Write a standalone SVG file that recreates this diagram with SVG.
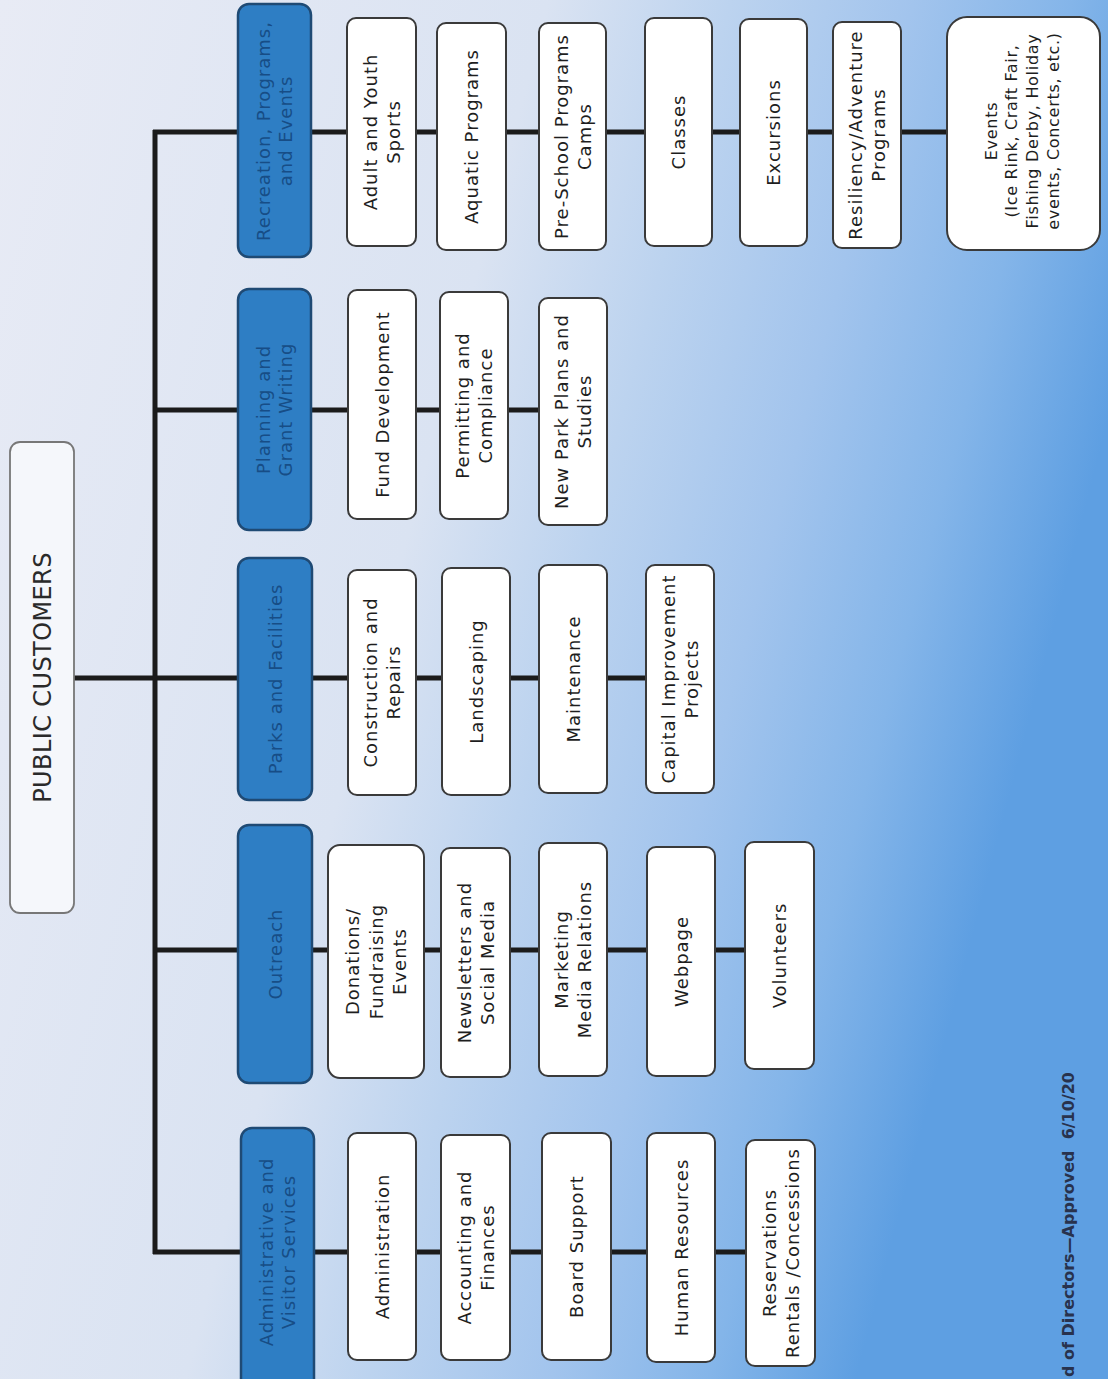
<svg xmlns="http://www.w3.org/2000/svg" width="1108" height="1379" viewBox="0 0 1108 1379">
<defs>
<linearGradient id="bg" gradientUnits="userSpaceOnUse" x1="0" y1="0" x2="1140" y2="300">
<stop offset="0" stop-color="#e8ebf5"/>
<stop offset="0.45" stop-color="#dae3f2"/>
<stop offset="0.6" stop-color="#bcd3ef"/>
<stop offset="0.75" stop-color="#a2c4ed"/>
<stop offset="0.88" stop-color="#84b5e9"/>
<stop offset="1" stop-color="#5e9fe2"/>
</linearGradient>
<style>
.dept{fill:#2e7ec4;stroke:#1f4a74;stroke-width:2.5}
.sub{fill:#ffffff;stroke:#3a3a3a;stroke-width:2}
.top{fill:#f5f7fb;stroke:#777777;stroke-width:1.8}
.t{font-family:"DejaVu Sans","Liberation Sans",sans-serif;font-size:18px;letter-spacing:1px;fill:#1e1e1e;text-anchor:middle}
.dt{font-family:"DejaVu Sans","Liberation Sans",sans-serif;font-size:18px;letter-spacing:1px;fill:#174d86;text-anchor:middle}
.ev{font-family:"DejaVu Sans","Liberation Sans",sans-serif;font-size:16px;letter-spacing:0.7px;fill:#1e1e1e;text-anchor:middle}
.pc{font-family:"DejaVu Sans","Liberation Sans",sans-serif;font-size:24px;letter-spacing:0.4px;fill:#2a2a2a;text-anchor:middle}
.ft{font-family:"DejaVu Sans","Liberation Sans",sans-serif;font-size:16px;font-weight:bold;fill:#28324d;text-anchor:end}
.ln{stroke:#1b1b1b;stroke-width:5;fill:none}
</style>
</defs>
<rect x="0" y="0" width="1108" height="1379" fill="url(#bg)"/>

<g id="connectors">
<line class="ln" x1="74" y1="678" x2="157" y2="678"/>
<line class="ln" x1="155" y1="130" x2="155" y2="1254"/>
<line class="ln" x1="153" y1="132" x2="948" y2="132"/>
<line class="ln" x1="153" y1="410" x2="540" y2="410"/>
<line class="ln" x1="153" y1="678" x2="647" y2="678"/>
<line class="ln" x1="153" y1="950" x2="746" y2="950"/>
<line class="ln" x1="153" y1="1252" x2="747" y2="1252"/>
</g>

<g id="public-customers">
<rect class="top" x="10" y="442" width="64" height="471" rx="10"/>
<text class="pc" transform="translate(42 677.5) rotate(-90)" x="0" y="8.5">PUBLIC CUSTOMERS</text>
</g>

<g id="dept-recreation">
<rect class="dept" x="238" y="4" width="73" height="253" rx="11"/>
<text class="dt" transform="translate(274.5 131) rotate(-90)"><tspan x="0" y="-4.5">Recreation, Programs,</tspan><tspan x="0" y="17.5">and Events</tspan></text>
</g>
<g id="dept-planning">
<rect class="dept" x="238" y="289" width="73" height="241" rx="11"/>
<text class="dt" transform="translate(274.5 409.5) rotate(-90)"><tspan x="0" y="-4.5">Planning and</tspan><tspan x="0" y="17.5">Grant Writing</tspan></text>
</g>
<g id="dept-parks">
<rect class="dept" x="238" y="558" width="74" height="242" rx="11"/>
<text class="dt" transform="translate(275 679) rotate(-90)" x="0" y="6.5">Parks and Facilities</text>
</g>
<g id="dept-outreach">
<rect class="dept" x="238" y="825" width="74" height="258" rx="11"/>
<text class="dt" transform="translate(275 954) rotate(-90)" x="0" y="6.5">Outreach</text>
</g>
<g id="dept-admin">
<rect class="dept" x="241" y="1128" width="73" height="270" rx="11"/>
<text class="dt" transform="translate(277.5 1252) rotate(-90)"><tspan x="0" y="-4.5">Administrative and</tspan><tspan x="0" y="17.5">Visitor Services</tspan></text>
</g>

<g id="adult-youth-sports">
<rect class="sub" x="347" y="18" width="69" height="228" rx="9"/>
<text class="t" transform="translate(381.5 132) rotate(-90)"><tspan x="0" y="-5">Adult and Youth</tspan><tspan x="0" y="18">Sports</tspan></text>
</g>
<g id="aquatic-programs">
<rect class="sub" x="437" y="23" width="69" height="227" rx="9"/>
<text class="t" transform="translate(471.5 136.5) rotate(-90)" x="0" y="6.5">Aquatic Programs</text>
</g>
<g id="preschool-camps">
<rect class="sub" x="539" y="23" width="67" height="227" rx="9"/>
<text class="t" transform="translate(572.5 136.5) rotate(-90)"><tspan x="0" y="-5">Pre-School Programs</tspan><tspan x="0" y="18">Camps</tspan></text>
</g>
<g id="classes">
<rect class="sub" x="645" y="18" width="67" height="228" rx="9"/>
<text class="t" transform="translate(678.5 132) rotate(-90)" x="0" y="6.5">Classes</text>
</g>
<g id="excursions">
<rect class="sub" x="740" y="19" width="67" height="227" rx="9"/>
<text class="t" transform="translate(773.5 132.5) rotate(-90)" x="0" y="6.5">Excursions</text>
</g>
<g id="resiliency-adventure">
<rect class="sub" x="833" y="22" width="68" height="226" rx="9"/>
<text class="t" transform="translate(867 135) rotate(-90)"><tspan x="0" y="-5">Resiliency/Adventure</tspan><tspan x="0" y="18">Programs</tspan></text>
</g>
<g id="events">
<rect class="sub" x="947" y="17" width="153" height="233" rx="20"/>
<text class="ev" transform="translate(1022 131) rotate(-90)"><tspan x="0" y="-25">Events</tspan><tspan x="0" y="-5">(Ice Rink, Craft Fair,</tspan><tspan x="0" y="16">Fishing Derby, Holiday</tspan><tspan x="0" y="37">events, Concerts, etc.)</tspan></text>
</g>

<g id="fund-development">
<rect class="sub" x="348" y="290" width="68" height="229" rx="9"/>
<text class="t" transform="translate(382 404.5) rotate(-90)" x="0" y="6.5">Fund Development</text>
</g>
<g id="permitting-compliance">
<rect class="sub" x="440" y="292" width="68" height="227" rx="9"/>
<text class="t" transform="translate(474 405.5) rotate(-90)"><tspan x="0" y="-5">Permitting and</tspan><tspan x="0" y="18">Compliance</tspan></text>
</g>
<g id="new-park-plans">
<rect class="sub" x="539" y="298" width="68" height="227" rx="9"/>
<text class="t" transform="translate(573 411.5) rotate(-90)"><tspan x="0" y="-5">New Park Plans and</tspan><tspan x="0" y="18">Studies</tspan></text>
</g>

<g id="construction-repairs">
<rect class="sub" x="348" y="570" width="68" height="225" rx="9"/>
<text class="t" transform="translate(382 682.5) rotate(-90)"><tspan x="0" y="-5">Construction and</tspan><tspan x="0" y="18">Repairs</tspan></text>
</g>
<g id="landscaping">
<rect class="sub" x="442" y="568" width="68" height="227" rx="9"/>
<text class="t" transform="translate(476 681.5) rotate(-90)" x="0" y="6.5">Landscaping</text>
</g>
<g id="maintenance">
<rect class="sub" x="539" y="565" width="68" height="228" rx="9"/>
<text class="t" transform="translate(573 679) rotate(-90)" x="0" y="6.5">Maintenance</text>
</g>
<g id="capital-improvement">
<rect class="sub" x="646" y="565" width="68" height="228" rx="9"/>
<text class="t" transform="translate(680 679) rotate(-90)"><tspan x="0" y="-5">Capital Improvement</tspan><tspan x="0" y="18">Projects</tspan></text>
</g>

<g id="donations-fundraising">
<rect class="sub" x="328" y="845" width="96" height="233" rx="12"/>
<text class="t" transform="translate(376 961.5) rotate(-90)"><tspan x="0" y="-17">Donations/</tspan><tspan x="0" y="6.5">Fundraising</tspan><tspan x="0" y="30">Events</tspan></text>
</g>
<g id="newsletters-social">
<rect class="sub" x="441" y="848" width="69" height="229" rx="9"/>
<text class="t" transform="translate(475.5 962.5) rotate(-90)"><tspan x="0" y="-5">Newsletters and</tspan><tspan x="0" y="18">Social Media</tspan></text>
</g>
<g id="marketing-media">
<rect class="sub" x="539" y="843" width="68" height="233" rx="9"/>
<text class="t" transform="translate(573 959.5) rotate(-90)"><tspan x="0" y="-5">Marketing</tspan><tspan x="0" y="18">Media Relations</tspan></text>
</g>
<g id="webpage">
<rect class="sub" x="647" y="847" width="68" height="229" rx="9"/>
<text class="t" transform="translate(681 961.5) rotate(-90)" x="0" y="6.5">Webpage</text>
</g>
<g id="volunteers">
<rect class="sub" x="745" y="842" width="69" height="227" rx="9"/>
<text class="t" transform="translate(779.5 955.5) rotate(-90)" x="0" y="6.5">Volunteers</text>
</g>

<g id="administration">
<rect class="sub" x="348" y="1133" width="68" height="227" rx="9"/>
<text class="t" transform="translate(382 1246.5) rotate(-90)" x="0" y="6.5">Administration</text>
</g>
<g id="accounting-finances">
<rect class="sub" x="441" y="1135" width="69" height="225" rx="9"/>
<text class="t" transform="translate(475.5 1247.5) rotate(-90)"><tspan x="0" y="-5">Accounting and</tspan><tspan x="0" y="18">Finances</tspan></text>
</g>
<g id="board-support">
<rect class="sub" x="542" y="1133" width="69" height="227" rx="9"/>
<text class="t" transform="translate(576.5 1246.5) rotate(-90)" x="0" y="6.5">Board Support</text>
</g>
<g id="human-resources">
<rect class="sub" x="647" y="1133" width="68" height="229" rx="9"/>
<text class="t" transform="translate(681 1247.5) rotate(-90)" x="0" y="6.5">Human Resources</text>
</g>
<g id="reservations-rentals">
<rect class="sub" x="746" y="1140" width="69" height="226" rx="9"/>
<text class="t" transform="translate(780.5 1253) rotate(-90)"><tspan x="0" y="-5">Reservations</tspan><tspan x="0" y="18">Rentals /Concessions</tspan></text>
</g>

<text class="ft" xml:space="preserve" transform="translate(1068 1072) rotate(-90)" x="0" y="6">d of Directors—Approved  6/10/20</text>
</svg>
